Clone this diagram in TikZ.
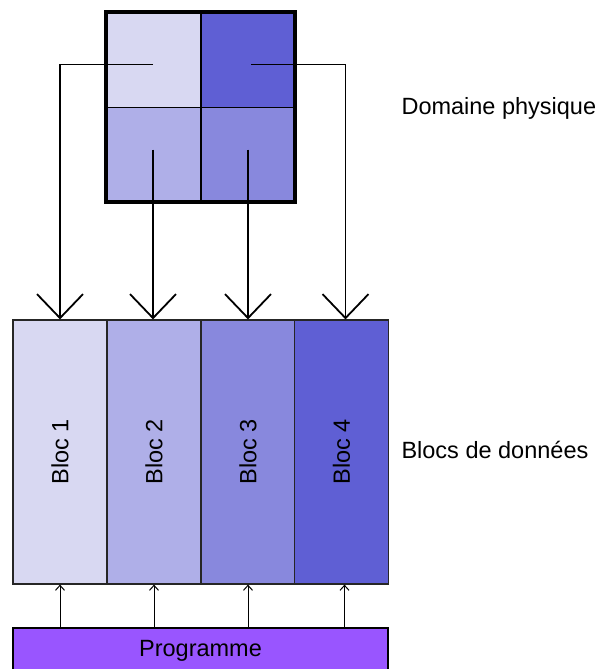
\documentclass[tikz,border=0pt]{standalone}
\usepackage{fontspec}
\setmainfont{Liberation Sans}
\usetikzlibrary{arrows.meta}

\definecolor{lavA}{HTML}{D8D8F2}
\definecolor{lavB}{HTML}{AFAFE8}
\definecolor{lavC}{HTML}{8888DD}
\definecolor{lavD}{HTML}{5F5FD4}
\definecolor{progViolet}{HTML}{9955FF}

\begin{document}
\begin{tikzpicture}[x=1pt,y=1pt,font=\fontsize{23.5}{27}\selectfont,
		cellbox/.style={draw,thin,minimum width=94pt,minimum height=95pt,inner sep=0pt},
		blocbox/.style={draw=black!85,line width=1.2pt,minimum width=94pt,minimum height=264pt,inner sep=0pt},
		bigarrow/.style={line width=1.8pt,-{Straight Barb[length=24pt,width=46pt,line width=1.8pt]}},
		smallarrow/.style={line width=1pt,-{Straight Barb[length=5pt,width=9pt]}}]
		\clip (0,0) rectangle (597,-669);

		% domaine physique
		\node at (153,-59.5) [cellbox,fill=lavA] (cellA) {};
		\node at (248,-59.5) [cellbox,fill=lavD] (cellB) {};
		\node at (153,-154.5) [cellbox,fill=lavB] (cellC) {};
		\node at (248,-154.5) [cellbox,fill=lavC] (cellD) {};
		\draw[line width=3.5pt] (cellA.north west) rectangle (cellD.south east);
		\node at (398,-108) [anchor=west] (domLabel) {Domaine physique};

		% blocs
		\node at (60,-452) [blocbox,fill=lavA] (bloc1) {};
		\node at (154,-452) [blocbox,fill=lavB] (bloc2) {};
		\node at (248,-452) [blocbox,fill=lavC] (bloc3) {};
		\node at (341.5,-452) [blocbox,fill=lavD] (bloc4) {};
		\node[rotate=90] at (bloc1) {Bloc 1};
		\node[rotate=90] at (bloc2) {Bloc 2};
		\node[rotate=90] at (bloc3) {Bloc 3};
		\node[rotate=90] at (bloc4) {Bloc 4};
		\node at (398,-450) [anchor=west] (blocLabel) {Blocs de données};

		% programme
		\node at (200.5,-652) [draw,line width=2pt,fill=progViolet,minimum width=375pt,minimum height=48pt,
			inner sep=0pt,text depth=0pt] (prog) {};
		\node at (200.5,-651) {Programme};

		\draw[bigarrow] ([yshift=-5pt]cellA.center) -| (bloc1.north);
		\draw[bigarrow] ([yshift=5pt]cellC.center) -- (cellC.center |- bloc2.north);
		\draw[bigarrow] ([yshift=5pt]cellD.center) -- (cellD.center |- bloc3.north);
		\draw[bigarrow] ([xshift=3pt,yshift=-5pt]cellB.center) -| ([xshift=4pt]bloc4.north);

		\draw[smallarrow] (bloc1.south |- prog.north) -- (bloc1.south);
		\draw[smallarrow] (bloc2.south |- prog.north) -- (bloc2.south);
		\draw[smallarrow] (bloc3.south |- prog.north) -- (bloc3.south);
		\draw[smallarrow] ([xshift=3pt]bloc4.south |- prog.north) -- ([xshift=3pt]bloc4.south);
	\end{tikzpicture}
\end{document}
